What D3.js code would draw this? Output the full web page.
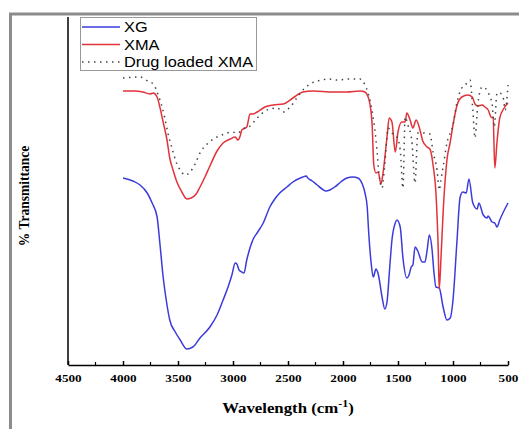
<!DOCTYPE html>
<html lang="en">
<head>
<meta charset="UTF-8">
<title>FTIR spectra</title>
<script src="https://d3js.org/d3.v7.min.js"></script>
<style>
    body { margin: 0; background: #fff; }
    svg { display: block; }
</style>
</head>
<body>
<div id="chart"></div>
<script>
    // wavenumber (cm-1) and relative transmittance
    const xgWave = [4000,3910,3845,3780,3735,3690,3665,3635,3600,3575,3525,3480,3420,3365,3300,3210,3145,3090,3045,3010,2980,2965,2945,2920,2900,2875,2820,2775,2725,2665,2620,2575,2510,2455,2365,2335,2320,2280,2235,2190,2155,2120,2075,2020,1965,1910,1865,1825,1800,1780,1765,1745,1725,1700,1680,1645,1620,1600,1575,1555,1525,1510,1480,1455,1420,1400,1380,1365,1345,1320,1280,1255,1235,1215,1190,1175,1155,1125,1090,1055,1025,1000,965,935,910,880,855,820,780,765,725,690,680,645,620,600,575,500];
    const xgT = [187,184,180,172,162,148,122,88,60,45,33,25,16,18,27,38,50,65,78,90,102,101,95,93,92,105,125,133,142,158,166,172,178,183,188,189,187,184,180,176,174,175,178,183,187,188,187,181,172,158,130,103,88,96,91,68,56,63,98,125,142,145,138,107,87,90,98,100,118,114,103,103,115,130,115,95,78,77,58,45,47,65,122,168,173,172,186,162,156,162,150,147,149,143,142,138,145,162];

    const xmaWave = [4000,3890,3820,3755,3725,3690,3665,3635,3600,3575,3545,3510,3465,3420,3380,3335,3300,3255,3210,3145,3090,3025,2980,2955,2935,2920,2875,2845,2820,2780,2710,2635,2545,2455,2365,2275,2090,1965,1845,1800,1775,1755,1735,1720,1700,1680,1655,1635,1600,1580,1555,1525,1500,1465,1435,1420,1390,1365,1335,1300,1275,1235,1210,1180,1155,1135,1125,1110,1090,1055,1025,1000,965,920,865,825,800,775,735,710,680,655,635,620,600,575,535,500];
    const xmaT = [274,274,273,271,272,268,258,243,225,207,195,183,173,166,167,171,178,188,199,214,222,226,228,225,229,235,238,251,251,253,258,260,261,267,273,274,273,273,274,273,269,261,240,200,192,193,181,193,228,247,243,213,233,243,243,252,245,237,245,235,224,218,216,199,172,118,76,105,152,205,223,240,259,268,270,268,261,259,260,258,255,248,247,197,223,247,257,262];

    const drugWave = [4000,3845,3775,3725,3680,3645,3620,3590,3555,3510,3480,3435,3390,3345,3300,3235,3145,3075,3010,2955,2910,2845,2780,2690,2600,2545,2480,2420,2365,2300,2190,2135,2055,1935,1845,1800,1775,1725,1710,1690,1675,1645,1625,1600,1590,1555,1510,1480,1455,1435,1410,1375,1345,1320,1275,1210,1180,1145,1125,1110,1090,1055,1000,965,920,890,845,820,800,775,735,690,665,645,625,600,575,545,525,500];
    const drugT = [287,288,284,281,270,258,247,231,217,201,195,190,193,201,212,221,228,231,233,232,236,239,247,255,257,253,258,267,275,281,285,286,285,286,286,280,273,247,235,213,193,177,195,228,237,232,228,215,177,248,240,225,182,232,232,231,212,195,175,185,198,222,240,262,277,280,285,255,227,260,278,275,268,262,238,272,272,268,255,280];

    const seriesNames = ["XG", "XMA", "Drug loaded XMA"];
    const xTicks = [4500, 4000, 3500, 3000, 2500, 2000, 1500, 1000, 500];
    const xMinorTicks = [4250, 3750, 3250, 2750, 2250, 1750, 1250, 750];

    const width = 519, height = 429;
    const serif = "'Liberation Serif', 'Times New Roman', serif";
    const sans = "'Liberation Sans', Arial, sans-serif";

    const svg = d3.select("#chart").append("svg")
        .attr("width", width)
        .attr("height", height);

    // grey frame round the figure
    svg.append("rect")
        .attr("x", 10.5).attr("y", 14)
        .attr("width", 520).attr("height", 430)
        .attr("fill", "none")
        .attr("stroke", "#8c8c8c")
        .attr("stroke-width", 3);

    const x = d3.scaleLinear().domain([4500, 500]).range([68, 508]);
    const y = d3.scaleLinear().domain([0, 348]).range([365, 17]);

    // y axis line only, no ticks
    svg.append("line")
        .attr("x1", x(4500)).attr("x2", x(4500))
        .attr("y1", y(348)).attr("y2", y(0))
        .attr("stroke", "#000").attr("stroke-width", 1.5);

    const xAxis = svg.append("g")
        .attr("transform", `translate(0,${y(0)})`)
        .call(d3.axisBottom(x).tickValues(xTicks).tickFormat(d3.format("d"))
            .tickSizeInner(-4).tickSizeOuter(0).tickPadding(9));
    xAxis.select(".domain").attr("stroke-width", 1.5);
    xAxis.selectAll(".tick line").attr("stroke-width", 1.5);
    xAxis.selectAll(".tick text")
        .attr("font-family", serif)
        .attr("font-weight", "bold")
        .attr("font-size", 11)
        .attr("transform", "scale(1.2,1)");

    svg.append("g").selectAll("line")
        .data(xMinorTicks)
        .join("line")
        .attr("x1", d => x(d)).attr("x2", d => x(d))
        .attr("y1", y(0)).attr("y2", y(0) - 3)
        .attr("stroke", "#000").attr("stroke-width", 1.2);

    // axis titles
    const xt = svg.append("text")
        .attr("transform", "translate(288,413) scale(1.2,1)")
        .attr("text-anchor", "middle")
        .attr("font-family", serif)
        .attr("font-weight", "bold")
        .attr("font-size", 14);
    xt.append("tspan").text("Wavelength (cm");
    xt.append("tspan").attr("dy", -6).attr("font-size", 10).text("-1");
    xt.append("tspan").attr("dy", 6).text(")");

    svg.append("text")
        .attr("transform", "translate(29,196) rotate(-90) scale(1,1.15)")
        .attr("text-anchor", "middle")
        .attr("font-family", serif)
        .attr("font-weight", "bold")
        .attr("font-size", 13.5)
        .text("% Transmittance");

    const line = d3.line()
        .x(d => x(d[0]))
        .y(d => y(d[1]))
        .curve(d3.curveMonotoneX);

    const styles = [
        { color: "#3b3bdb", dash: null, w: 1.5 },
        { color: "#e2323a", dash: null, w: 1.5 },
        { color: "#444", dash: "1.5,4.5", w: 1.5 }
    ];
    const data = [
        d3.zip(xgWave, xgT),
        d3.zip(xmaWave, xmaT),
        d3.zip(drugWave, drugT)
    ];

    data.forEach((d, i) => {
        svg.append("path")
            .datum(d)
            .attr("fill", "none")
            .attr("stroke", styles[i].color)
            .attr("stroke-width", styles[i].w)
            .attr("stroke-dasharray", styles[i].dash)
            .attr("d", line);
    });

    // legend
    const legend = svg.append("g");
    legend.append("rect")
        .attr("x", 80.5).attr("y", 17.5)
        .attr("width", 176).attr("height", 53)
        .attr("fill", "#fff")
        .attr("stroke", "#999");
    seriesNames.forEach((name, i) => {
        const ly = 27 + i * 17.5;
        legend.append("line")
            .attr("x1", 82).attr("x2", 120)
            .attr("y1", ly).attr("y2", ly)
            .attr("stroke", styles[i].color)
            .attr("stroke-width", 1.3)
            .attr("stroke-dasharray", styles[i].dash);
        legend.append("text")
            .attr("transform", `translate(124,${ly + 5}) scale(1.17,1)`)
            .attr("font-family", sans)
            .attr("font-size", 14)
            .text(name);
    });
</script>
</body>
</html>
